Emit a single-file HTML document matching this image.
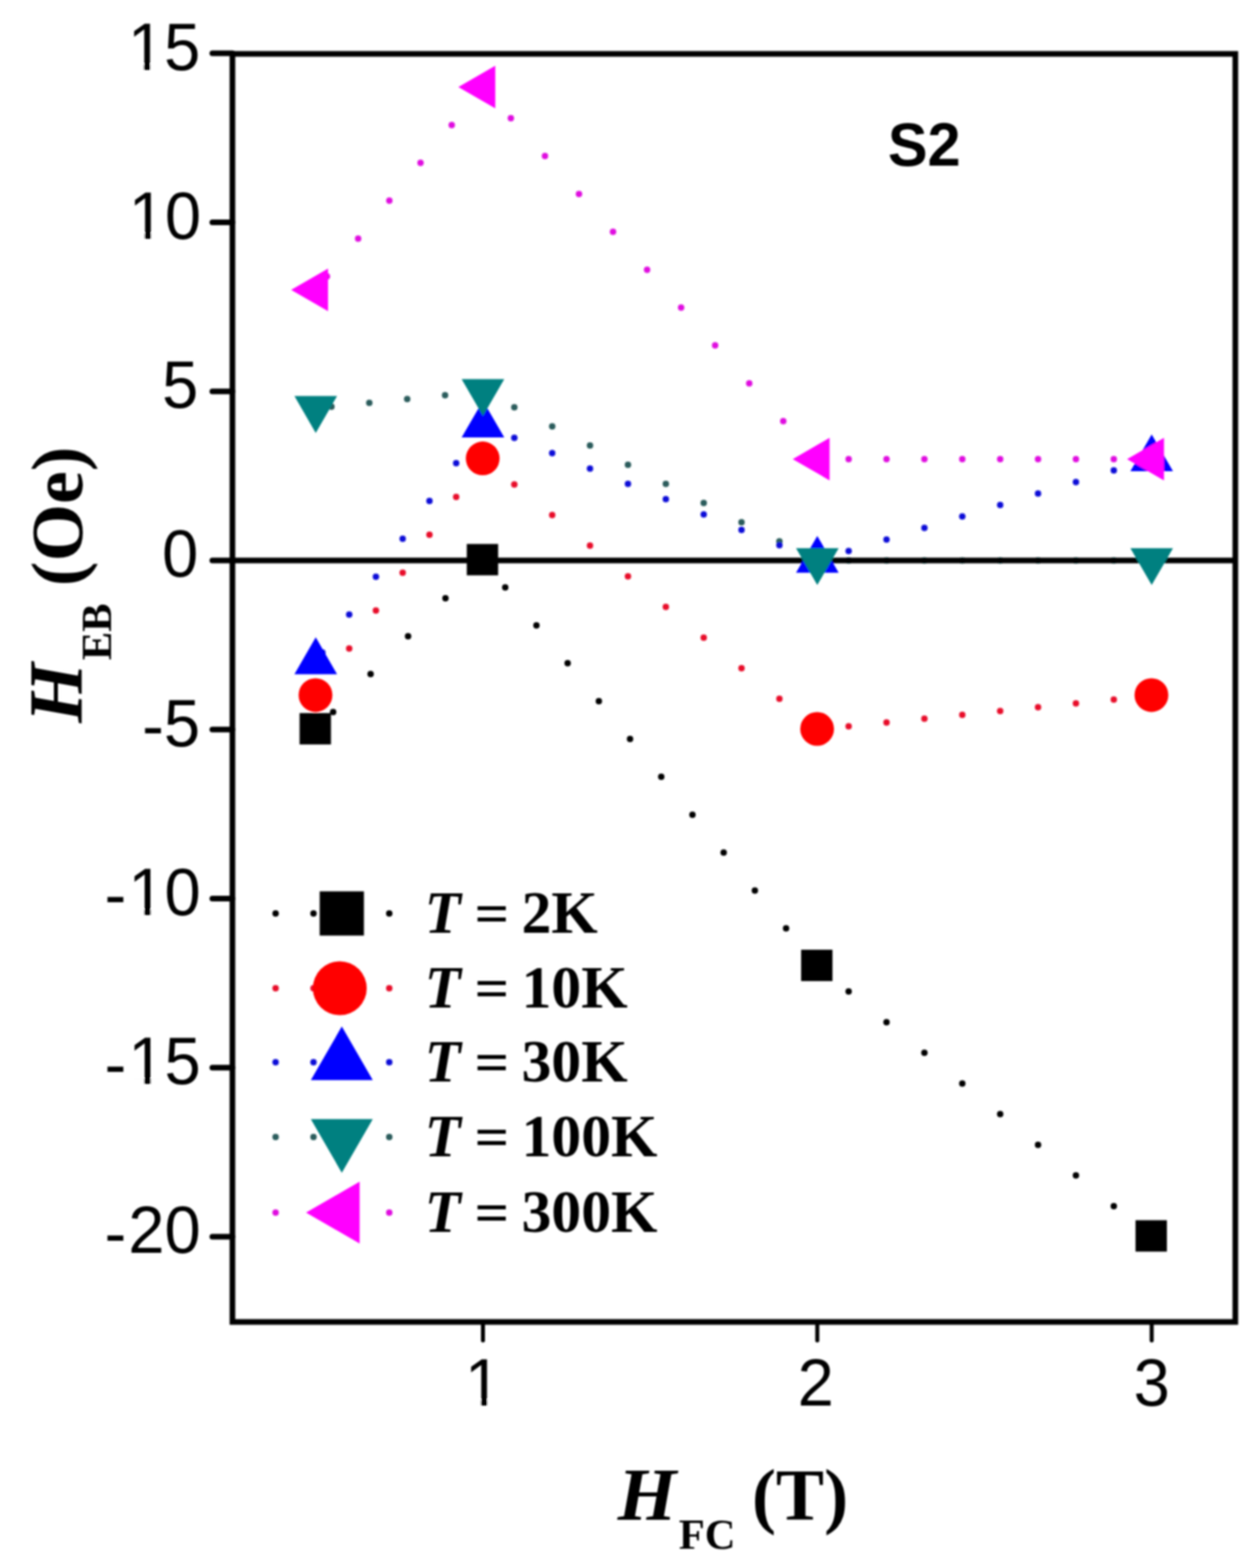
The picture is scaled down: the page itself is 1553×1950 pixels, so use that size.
<!DOCTYPE html>
<html><head><meta charset="utf-8"><title>H_EB vs H_FC</title>
<style>html,body{margin:0;padding:0;background:#fff;}svg{display:block;}</style>
</head><body>
<svg width="1553" height="1950" viewBox="0 0 1553 1950">
<defs><filter id="soft" x="0" y="0" width="100%" height="100%" filterUnits="userSpaceOnUse"><feGaussianBlur stdDeviation="1.1"/></filter></defs>
<rect width="1553" height="1950" fill="#fff"/>
<g filter="url(#soft)">
<g fill="#e010e0">
<circle cx="600.5" cy="108.3" r="4.0"/>
<circle cx="561.7" cy="155.4" r="4.0"/>
<circle cx="522.9" cy="202.5" r="4.0"/>
<circle cx="484.1" cy="249.6" r="4.0"/>
<circle cx="445.3" cy="296.7" r="4.0"/>
<circle cx="406.5" cy="343.8" r="4.0"/>
<circle cx="1016.2" cy="570.9" r="4.0"/>
<circle cx="973.9" cy="523.8" r="4.0"/>
<circle cx="931.6" cy="476.7" r="4.0"/>
<circle cx="889.2" cy="429.6" r="4.0"/>
<circle cx="846.9" cy="382.5" r="4.0"/>
<circle cx="804.6" cy="335.4" r="4.0"/>
<circle cx="762.2" cy="288.2" r="4.0"/>
<circle cx="719.9" cy="241.2" r="4.0"/>
<circle cx="677.6" cy="194.1" r="4.0"/>
<circle cx="635.2" cy="146.9" r="4.0"/>
<circle cx="1432.0" cy="570.9" r="4.0"/>
<circle cx="1384.9" cy="570.9" r="4.0"/>
<circle cx="1337.8" cy="570.9" r="4.0"/>
<circle cx="1290.7" cy="570.9" r="4.0"/>
<circle cx="1243.6" cy="570.9" r="4.0"/>
<circle cx="1196.5" cy="570.9" r="4.0"/>
<circle cx="1149.4" cy="570.9" r="4.0"/>
<circle cx="1102.3" cy="570.9" r="4.0"/>
<circle cx="1055.2" cy="570.9" r="4.0"/>
</g>
<g fill="#2a5c5c">
<circle cx="600.5" cy="486.8" r="4.0"/>
<circle cx="553.4" cy="491.5" r="4.0"/>
<circle cx="506.3" cy="496.3" r="4.0"/>
<circle cx="459.2" cy="501.0" r="4.0"/>
<circle cx="412.1" cy="505.8" r="4.0"/>
<circle cx="1016.2" cy="697.0" r="4.0"/>
<circle cx="969.1" cy="673.2" r="4.0"/>
<circle cx="922.0" cy="649.4" r="4.0"/>
<circle cx="875.0" cy="625.5" r="4.0"/>
<circle cx="827.9" cy="601.7" r="4.0"/>
<circle cx="780.8" cy="577.9" r="4.0"/>
<circle cx="733.6" cy="554.1" r="4.0"/>
<circle cx="686.6" cy="530.3" r="4.0"/>
<circle cx="639.5" cy="506.4" r="4.0"/>
<circle cx="1432.0" cy="697.0" r="4.0"/>
<circle cx="1384.9" cy="697.0" r="4.0"/>
<circle cx="1337.8" cy="697.0" r="4.0"/>
<circle cx="1290.7" cy="697.0" r="4.0"/>
<circle cx="1243.6" cy="697.0" r="4.0"/>
<circle cx="1196.5" cy="697.0" r="4.0"/>
<circle cx="1149.4" cy="697.0" r="4.0"/>
<circle cx="1102.3" cy="697.0" r="4.0"/>
<circle cx="1055.2" cy="697.0" r="4.0"/>
</g>
<g fill="#1010d8">
<circle cx="600.5" cy="528.8" r="4.0"/>
<circle cx="567.2" cy="575.9" r="4.0"/>
<circle cx="534.0" cy="623.0" r="4.0"/>
<circle cx="500.7" cy="670.1" r="4.0"/>
<circle cx="467.4" cy="717.2" r="4.0"/>
<circle cx="434.2" cy="764.3" r="4.0"/>
<circle cx="400.9" cy="811.4" r="4.0"/>
<circle cx="1016.2" cy="697.0" r="4.0"/>
<circle cx="969.1" cy="677.9" r="4.0"/>
<circle cx="922.0" cy="658.9" r="4.0"/>
<circle cx="875.0" cy="639.8" r="4.0"/>
<circle cx="827.9" cy="620.8" r="4.0"/>
<circle cx="780.8" cy="601.7" r="4.0"/>
<circle cx="733.6" cy="582.7" r="4.0"/>
<circle cx="686.6" cy="563.6" r="4.0"/>
<circle cx="639.5" cy="544.6" r="4.0"/>
<circle cx="1432.0" cy="570.9" r="4.0"/>
<circle cx="1384.9" cy="585.1" r="4.0"/>
<circle cx="1337.8" cy="599.4" r="4.0"/>
<circle cx="1290.7" cy="613.7" r="4.0"/>
<circle cx="1243.6" cy="628.0" r="4.0"/>
<circle cx="1196.5" cy="642.3" r="4.0"/>
<circle cx="1149.4" cy="656.6" r="4.0"/>
<circle cx="1102.3" cy="670.9" r="4.0"/>
<circle cx="1055.2" cy="685.2" r="4.0"/>
</g>
<g fill="#e8102c">
<circle cx="600.5" cy="570.9" r="4.0"/>
<circle cx="567.2" cy="618.0" r="4.0"/>
<circle cx="534.0" cy="665.1" r="4.0"/>
<circle cx="500.7" cy="712.2" r="4.0"/>
<circle cx="467.4" cy="759.2" r="4.0"/>
<circle cx="434.2" cy="806.4" r="4.0"/>
<circle cx="400.9" cy="853.5" r="4.0"/>
<circle cx="1016.2" cy="907.2" r="4.0"/>
<circle cx="969.1" cy="869.1" r="4.0"/>
<circle cx="922.0" cy="831.0" r="4.0"/>
<circle cx="875.0" cy="792.9" r="4.0"/>
<circle cx="827.9" cy="754.8" r="4.0"/>
<circle cx="780.8" cy="716.7" r="4.0"/>
<circle cx="733.6" cy="678.6" r="4.0"/>
<circle cx="686.6" cy="640.5" r="4.0"/>
<circle cx="639.5" cy="602.4" r="4.0"/>
<circle cx="1432.0" cy="865.2" r="4.0"/>
<circle cx="1384.9" cy="870.0" r="4.0"/>
<circle cx="1337.8" cy="874.7" r="4.0"/>
<circle cx="1290.7" cy="879.5" r="4.0"/>
<circle cx="1243.6" cy="884.3" r="4.0"/>
<circle cx="1196.5" cy="889.0" r="4.0"/>
<circle cx="1149.4" cy="893.8" r="4.0"/>
<circle cx="1102.3" cy="898.5" r="4.0"/>
<circle cx="1055.2" cy="903.3" r="4.0"/>
</g>
<g fill="#000000">
<circle cx="600.5" cy="697.0" r="4.0"/>
<circle cx="553.9" cy="744.1" r="4.0"/>
<circle cx="507.4" cy="791.2" r="4.0"/>
<circle cx="460.8" cy="838.3" r="4.0"/>
<circle cx="414.2" cy="885.4" r="4.0"/>
<circle cx="1016.2" cy="1201.6" r="4.0"/>
<circle cx="977.4" cy="1154.5" r="4.0"/>
<circle cx="938.6" cy="1107.4" r="4.0"/>
<circle cx="899.8" cy="1060.3" r="4.0"/>
<circle cx="861.0" cy="1013.2" r="4.0"/>
<circle cx="822.2" cy="966.1" r="4.0"/>
<circle cx="783.4" cy="919.0" r="4.0"/>
<circle cx="744.6" cy="871.9" r="4.0"/>
<circle cx="705.8" cy="824.8" r="4.0"/>
<circle cx="667.0" cy="777.7" r="4.0"/>
<circle cx="628.2" cy="730.6" r="4.0"/>
<circle cx="1432.0" cy="1538.0" r="4.0"/>
<circle cx="1384.9" cy="1499.9" r="4.0"/>
<circle cx="1337.8" cy="1461.8" r="4.0"/>
<circle cx="1290.7" cy="1423.7" r="4.0"/>
<circle cx="1243.6" cy="1385.6" r="4.0"/>
<circle cx="1196.5" cy="1347.4" r="4.0"/>
<circle cx="1149.4" cy="1309.3" r="4.0"/>
<circle cx="1102.3" cy="1271.2" r="4.0"/>
<circle cx="1055.2" cy="1233.1" r="4.0"/>
</g>
<line x1="289" y1="697.0" x2="1536" y2="697.0" stroke="#000" stroke-width="7"/>
<rect x="372.5" y="886.8" width="39.0" height="39.0" fill="#000000"/>
<rect x="580.4" y="676.5" width="39.0" height="39.0" fill="#000000"/>
<rect x="996.1" y="1181.1" width="39.0" height="39.0" fill="#000000"/>
<rect x="1411.9" y="1517.5" width="39.0" height="39.0" fill="#000000"/>
<circle cx="392.3" cy="864.4" r="21.0" fill="#ff0000"/>
<circle cx="600.2" cy="570.1" r="21.0" fill="#ff0000"/>
<circle cx="1016.0" cy="906.5" r="21.0" fill="#ff0000"/>
<circle cx="1431.7" cy="864.4" r="21.0" fill="#ff0000"/>
<polygon points="392.6,792.6 366.1,838.4 419.1,838.4" fill="#0000ff"/>
<polygon points="600.5,498.2 574.0,544.1 627.0,544.1" fill="#0000ff"/>
<polygon points="1016.2,666.4 989.8,712.3 1042.8,712.3" fill="#0000ff"/>
<polygon points="1432.0,540.3 1405.5,586.1 1458.5,586.1" fill="#0000ff"/>
<polygon points="392.6,538.4 366.1,492.5 419.1,492.5" fill="#008080"/>
<polygon points="600.5,517.3 574.0,471.5 627.0,471.5" fill="#008080"/>
<polygon points="1016.2,727.6 989.8,681.7 1042.8,681.7" fill="#008080"/>
<polygon points="1432.0,727.6 1405.5,681.7 1458.5,681.7" fill="#008080"/>
<polygon points="362.0,360.6 407.9,334.1 407.9,387.1" fill="#ff00ff"/>
<polygon points="569.9,108.3 615.8,81.8 615.8,134.8" fill="#ff00ff"/>
<polygon points="985.7,570.9 1031.5,544.4 1031.5,597.4" fill="#ff00ff"/>
<polygon points="1401.4,570.9 1447.3,544.4 1447.3,597.4" fill="#ff00ff"/>
<rect x="289" y="67" width="1247" height="1577" fill="none" stroke="#000" stroke-width="7"/>
<line x1="264" y1="66.2" x2="289" y2="66.2" stroke="#000" stroke-width="7" stroke-linecap="round"/>
<text transform="translate(249.0,86.5) scale(1,1.04)" text-anchor="end" font-family="Liberation Sans, Arial, sans-serif" font-size="81">15</text>
<line x1="264" y1="276.5" x2="289" y2="276.5" stroke="#000" stroke-width="7" stroke-linecap="round"/>
<text transform="translate(250.0,296.7) scale(1,1.04)" text-anchor="end" font-family="Liberation Sans, Arial, sans-serif" font-size="81">10</text>
<line x1="264" y1="486.8" x2="289" y2="486.8" stroke="#000" stroke-width="7" stroke-linecap="round"/>
<text transform="translate(246.5,506.9) scale(1,1.04)" text-anchor="end" font-family="Liberation Sans, Arial, sans-serif" font-size="81">5</text>
<line x1="264" y1="697.0" x2="289" y2="697.0" stroke="#000" stroke-width="7" stroke-linecap="round"/>
<text transform="translate(246.6,717.2) scale(1,1.04)" text-anchor="end" font-family="Liberation Sans, Arial, sans-serif" font-size="81">0</text>
<line x1="264" y1="907.2" x2="289" y2="907.2" stroke="#000" stroke-width="7" stroke-linecap="round"/>
<text transform="translate(248.8,927.5) scale(1,1.04)" text-anchor="end" font-family="Liberation Sans, Arial, sans-serif" font-size="81"><tspan dy="3.4">-</tspan><tspan dy="-3.4" dx="0">5</tspan></text>
<line x1="264" y1="1117.5" x2="289" y2="1117.5" stroke="#000" stroke-width="7" stroke-linecap="round"/>
<text transform="translate(249.5,1137.7) scale(1,1.04)" text-anchor="end" font-family="Liberation Sans, Arial, sans-serif" font-size="81"><tspan dy="3.4">-</tspan><tspan dy="-3.4" dx="2.5">10</tspan></text>
<line x1="264" y1="1327.8" x2="289" y2="1327.8" stroke="#000" stroke-width="7" stroke-linecap="round"/>
<text transform="translate(249.5,1348.0) scale(1,1.04)" text-anchor="end" font-family="Liberation Sans, Arial, sans-serif" font-size="81"><tspan dy="3.4">-</tspan><tspan dy="-3.4" dx="2.5">15</tspan></text>
<line x1="264" y1="1538.0" x2="289" y2="1538.0" stroke="#000" stroke-width="7" stroke-linecap="round"/>
<text transform="translate(249.5,1558.2) scale(1,1.04)" text-anchor="end" font-family="Liberation Sans, Arial, sans-serif" font-size="81"><tspan dy="3.4">-</tspan><tspan dy="-3.4" dx="2.5">20</tspan></text>
<line x1="600.5" y1="1644" x2="600.5" y2="1667" stroke="#000" stroke-width="5" stroke-linecap="round"/>
<text transform="translate(600.5,1747.5) scale(1,1.04)" text-anchor="middle" font-family="Liberation Sans, Arial, sans-serif" font-size="81">1</text>
<line x1="1016.2" y1="1644" x2="1016.2" y2="1667" stroke="#000" stroke-width="5" stroke-linecap="round"/>
<text transform="translate(1014.2,1747.5) scale(1,1.04)" text-anchor="middle" font-family="Liberation Sans, Arial, sans-serif" font-size="81">2</text>
<line x1="1432.0" y1="1644" x2="1432.0" y2="1667" stroke="#000" stroke-width="5" stroke-linecap="round"/>
<text transform="translate(1432.0,1747.5) scale(1,1.04)" text-anchor="middle" font-family="Liberation Sans, Arial, sans-serif" font-size="81">3</text>
<rect x="163.65" y="79.56" width="15.12" height="7.89" fill="#fff"/>
<rect x="186.93" y="79.56" width="14.49" height="7.89" fill="#fff"/>
<rect x="164.65" y="289.81" width="15.12" height="7.89" fill="#fff"/>
<rect x="187.93" y="289.81" width="14.49" height="7.89" fill="#fff"/>
<rect x="164.15" y="1130.81" width="15.12" height="7.89" fill="#fff"/>
<rect x="187.43" y="1130.81" width="14.49" height="7.89" fill="#fff"/>
<rect x="164.15" y="1341.06" width="15.12" height="7.89" fill="#fff"/>
<rect x="187.43" y="1341.06" width="14.49" height="7.89" fill="#fff"/>
<rect x="582.72" y="1740.61" width="15.12" height="7.89" fill="#fff"/>
<rect x="606.00" y="1740.61" width="14.49" height="7.89" fill="#fff"/>
<text transform="translate(1104,206) scale(1,1.035)" font-family="Liberation Sans, Arial, sans-serif" font-weight="bold" font-size="74">S2</text>
<g fill="#000000">
<circle cx="484.0" cy="1136.0" r="4.0"/>
<circle cx="436.9" cy="1136.0" r="4.0"/>
<circle cx="389.8" cy="1136.0" r="4.0"/>
<circle cx="342.7" cy="1136.0" r="4.0"/>
</g>
<rect x="397.5" y="1108.5" width="55.0" height="55.0" fill="#000000"/>
<text transform="translate(528,1160) scale(1.05,1.06)" font-family="Liberation Serif, Times New Roman, serif" font-weight="bold" font-size="70" font-style="italic">T</text>
<text transform="translate(611.5,1160) scale(1.08,1)" text-anchor="middle" font-family="Liberation Serif, Times New Roman, serif" font-weight="bold" font-size="70">=</text>
<text transform="translate(648.5,1160) scale(1.06,1.06)" font-family="Liberation Serif, Times New Roman, serif" font-weight="bold" font-size="70">2K</text>
<g fill="#e8102c">
<circle cx="484.0" cy="1229.0" r="4.0"/>
<circle cx="436.9" cy="1229.0" r="4.0"/>
<circle cx="389.8" cy="1229.0" r="4.0"/>
<circle cx="342.7" cy="1229.0" r="4.0"/>
</g>
<circle cx="422.5" cy="1229.0" r="33.5" fill="#ff0000"/>
<text transform="translate(528,1253) scale(1.05,1.06)" font-family="Liberation Serif, Times New Roman, serif" font-weight="bold" font-size="70" font-style="italic">T</text>
<text transform="translate(611.5,1253) scale(1.08,1)" text-anchor="middle" font-family="Liberation Serif, Times New Roman, serif" font-weight="bold" font-size="70">=</text>
<text transform="translate(648.5,1253) scale(1.06,1.06)" font-family="Liberation Serif, Times New Roman, serif" font-weight="bold" font-size="70">10K</text>
<g fill="#1010d8">
<circle cx="484.0" cy="1321.0" r="4.0"/>
<circle cx="436.9" cy="1321.0" r="4.0"/>
<circle cx="389.8" cy="1321.0" r="4.0"/>
<circle cx="342.7" cy="1321.0" r="4.0"/>
</g>
<polygon points="425.0,1276.5 386.5,1343.2 463.5,1343.2" fill="#0000ff"/>
<text transform="translate(528,1345) scale(1.05,1.06)" font-family="Liberation Serif, Times New Roman, serif" font-weight="bold" font-size="70" font-style="italic">T</text>
<text transform="translate(611.5,1345) scale(1.08,1)" text-anchor="middle" font-family="Liberation Serif, Times New Roman, serif" font-weight="bold" font-size="70">=</text>
<text transform="translate(648.5,1345) scale(1.06,1.06)" font-family="Liberation Serif, Times New Roman, serif" font-weight="bold" font-size="70">30K</text>
<g fill="#2a5c5c">
<circle cx="484.0" cy="1414.0" r="4.0"/>
<circle cx="436.9" cy="1414.0" r="4.0"/>
<circle cx="389.8" cy="1414.0" r="4.0"/>
<circle cx="342.7" cy="1414.0" r="4.0"/>
</g>
<polygon points="425.0,1458.5 386.5,1391.8 463.5,1391.8" fill="#008080"/>
<text transform="translate(528,1438) scale(1.05,1.06)" font-family="Liberation Serif, Times New Roman, serif" font-weight="bold" font-size="70" font-style="italic">T</text>
<text transform="translate(611.5,1438) scale(1.08,1)" text-anchor="middle" font-family="Liberation Serif, Times New Roman, serif" font-weight="bold" font-size="70">=</text>
<text transform="translate(648.5,1438) scale(1.06,1.06)" font-family="Liberation Serif, Times New Roman, serif" font-weight="bold" font-size="70">100K</text>
<g fill="#e010e0">
<circle cx="484.0" cy="1508.0" r="4.0"/>
<circle cx="436.9" cy="1508.0" r="4.0"/>
<circle cx="389.8" cy="1508.0" r="4.0"/>
<circle cx="342.7" cy="1508.0" r="4.0"/>
</g>
<polygon points="380.5,1508.0 447.2,1469.5 447.2,1546.5" fill="#ff00ff"/>
<text transform="translate(528,1532) scale(1.05,1.06)" font-family="Liberation Serif, Times New Roman, serif" font-weight="bold" font-size="70" font-style="italic">T</text>
<text transform="translate(611.5,1532) scale(1.08,1)" text-anchor="middle" font-family="Liberation Serif, Times New Roman, serif" font-weight="bold" font-size="70">=</text>
<text transform="translate(648.5,1532) scale(1.06,1.06)" font-family="Liberation Serif, Times New Roman, serif" font-weight="bold" font-size="70">300K</text>
<text x="768" y="1890" font-family="Liberation Serif, Times New Roman, serif" font-weight="bold" font-size="94" font-style="italic">H</text>
<text x="844" y="1926" font-family="Liberation Serif, Times New Roman, serif" font-weight="bold" font-size="53">FC</text>
<text transform="translate(935,1890) scale(0.975,1)" font-family="Liberation Serif, Times New Roman, serif" font-weight="bold" font-size="92">(T)</text>
<g transform="translate(102,0) rotate(-90)">
<text x="-899" y="0" font-family="Liberation Serif, Times New Roman, serif" font-weight="bold" font-size="96" font-style="italic">H</text>
<text x="-821" y="36" font-family="Liberation Serif, Times New Roman, serif" font-weight="bold" font-size="53">EB</text>
<text x="-729" y="0" font-family="Liberation Serif, Times New Roman, serif" font-weight="bold" font-size="92">(Oe)</text>
</g>
</g>
</svg>
</body></html>
